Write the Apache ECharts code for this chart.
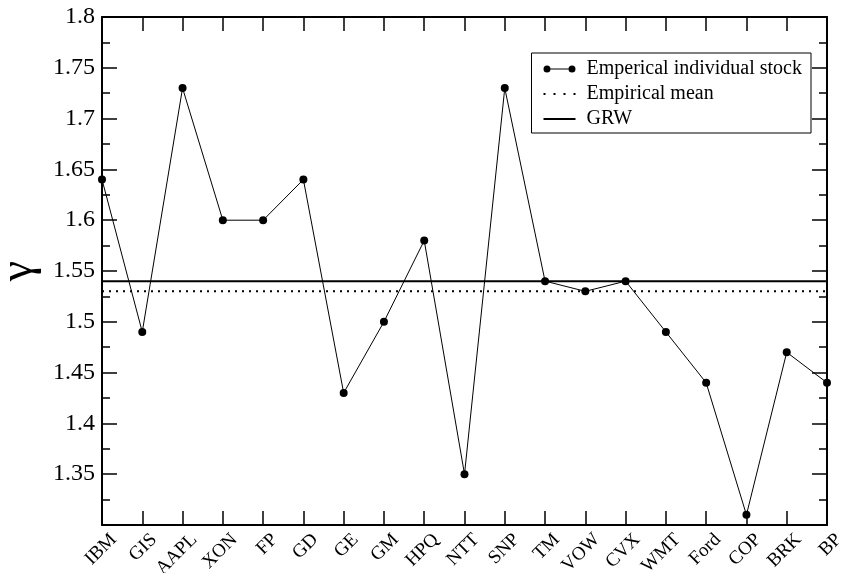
<!DOCTYPE html>
<html>
<head>
<meta charset="utf-8">
<script src="https://cdn.jsdelivr.net/npm/echarts@6/dist/echarts.min.js"></script>
<style>
  html, body { margin: 0; padding: 0; background: #fff; }
  #chart { width: 843px; height: 573px; }
</style>
</head>
<body>
<div id="chart"></div>
<script>
// Scaling exponent gamma per stock
const stocks = ['IBM', 'GIS', 'AAPL', 'XON', 'FP', 'GD', 'GE', 'GM', 'HPQ', 'NTT',
                'SNP', 'TM', 'VOW', 'CVX', 'WMT', 'Ford', 'COP', 'BRK', 'BP'];
const gammaValues = [1.64, 1.49, 1.73, 1.60, 1.60, 1.64, 1.43, 1.50, 1.58, 1.35,
                     1.73, 1.54, 1.53, 1.54, 1.49, 1.44, 1.31, 1.47, 1.44];
const empiricalMean = 1.53;
const grwValue = 1.54;
const yTicks = [1.35, 1.4, 1.45, 1.5, 1.55, 1.6, 1.65, 1.7, 1.75, 1.8];

const serif = "'Liberation Serif', 'Times New Roman', serif";
const chart = echarts.init(document.getElementById('chart'));

// Legend glyphs: line with end dots, dotted line, solid line
const iconStock = 'path://M0,8a3.5,3.5 0 1,0 7,0a3.5,3.5 0 1,0 -7,0Z' +
                  'M25,8a3.5,3.5 0 1,0 7,0a3.5,3.5 0 1,0 -7,0Z' +
                  'M7,7.4L25,7.4L25,8.6L7,8.6Z';
const iconMean = 'path://M0,7L2,7L2,9L0,9Z M10,7L12,7L12,9L10,9Z M20,7L22,7L22,9L20,9Z M30,7L32,7L32,9L30,9Z';
const iconGrw = 'path://M0,7L32,7L32,9L0,9Z';

const yBase = {
  type: 'value', min: 1.3, max: 1.8, interval: 0.05,
  axisLine: { show: true, lineStyle: { color: '#000', width: 2 } },
  axisTick: { show: true, inside: true, length: 15, lineStyle: { color: '#000', width: 1.5 } },
  minorTick: { show: true, splitNumber: 2, length: 8, lineStyle: { color: '#000', width: 1.5 } },
  splitLine: { show: false }
};

chart.setOption({
  animation: false,
  backgroundColor: '#fff',
  grid: { left: 102, right: 16, top: 17, bottom: 48, containLabel: false, outerBoundsMode: 'none' },
  legend: {
    right: 32, top: 53,
    orient: 'vertical',
    itemGap: 5,
    itemWidth: 32, itemHeight: 8,
    symbolKeepAspect: true,
    padding: [6, 9, 4, 12],
    borderColor: '#000', borderWidth: 1,
    backgroundColor: '#fff',
    itemStyle: { borderWidth: 0 },
    textStyle: { fontFamily: serif, fontSize: 20, color: '#000', padding: [0, 0, 0, 6] },
    data: [
      { name: 'Emperical individual stock', icon: iconStock },
      { name: 'Empirical mean', icon: iconMean },
      { name: 'GRW', icon: iconGrw }
    ]
  },
  xAxis: [{
    type: 'category', data: stocks, boundaryGap: false, position: 'bottom',
    axisLine: { lineStyle: { color: '#000', width: 2 } },
    axisTick: { inside: true, length: 14, alignWithLabel: true, lineStyle: { color: '#000', width: 1.5 } },
    axisLabel: {
      rotate: 45, verticalAlign: 'top', lineHeight: 33,
      fontFamily: serif, fontSize: 19, color: '#000', margin: 0, interval: 0
    }
  }, {
    type: 'category', data: stocks, boundaryGap: false, position: 'top',
    axisLine: { lineStyle: { color: '#000', width: 2 } },
    axisTick: { inside: true, length: 14, lineStyle: { color: '#000', width: 1.5 } },
    axisLabel: { show: false }
  }],
  yAxis: [Object.assign({}, yBase, {
    position: 'left',
    name: 'γ', nameLocation: 'middle', nameGap: 60, nameRotate: 90,
    nameTextStyle: { fontFamily: serif, fontSize: 46, color: '#000' },
    axisLabel: {
      fontFamily: serif, fontSize: 24, color: '#000', margin: 7,
      formatter: v => (yTicks.some(t => Math.abs(t - v) < 1e-9) ? String(+v.toFixed(2)) : '')
    }
  }), Object.assign({}, yBase, {
    position: 'right',
    axisLabel: { show: false }
  })],
  series: [{
    name: 'Emperical individual stock',
    type: 'line', data: gammaValues,
    symbol: 'circle', symbolSize: 8,
    itemStyle: { color: '#000', borderWidth: 0 },
    lineStyle: { color: '#000', width: 1 },
    z: 5
  }, {
    name: 'Empirical mean',
    type: 'line', data: stocks.map(() => empiricalMean),
    symbol: 'none',
    itemStyle: { color: '#000', borderWidth: 0 },
    lineStyle: { color: '#000', width: 2, type: [2, 5] }
  }, {
    name: 'GRW',
    type: 'line', data: stocks.map(() => grwValue),
    symbol: 'none',
    itemStyle: { color: '#000', borderWidth: 0 },
    lineStyle: { color: '#000', width: 2 }
  }]
});
</script>
</body>
</html>
